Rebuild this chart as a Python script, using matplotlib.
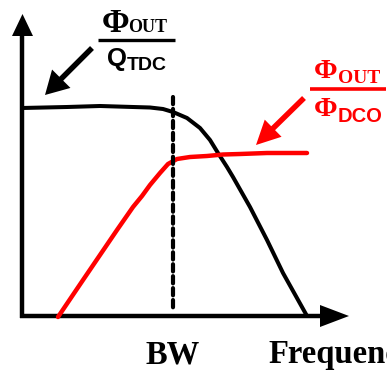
import matplotlib
matplotlib.use('Agg')
import matplotlib.pyplot as plt

# curves (pixel-like units, y grows downward)
black_x = [22, 67, 100, 133, 150, 163, 173, 187, 200, 210, 218, 227, 233, 250, 267, 283, 307]
black_y = [108, 107, 106, 107, 107.5, 109, 112, 118, 128, 140, 153, 167, 177, 207, 240, 273, 316]

red_x = [58, 83, 100, 117, 133, 142, 150, 160, 168, 177, 190, 207, 223, 240, 267, 307]
red_y = [317, 280, 255, 230, 207, 196, 185, 173, 164, 159, 157, 156, 154.5, 154, 153, 153]

bw_x = 173
bw_span = (97, 310)
tick_labels = ['BW', 'Frequency']

plt.rcParams['lines.scale_dashes'] = False

fig = plt.figure(figsize=(3.87, 3.76), dpi=100)
ax = fig.add_axes([0, 0, 1, 1])
ax.set_xlim(0, 387)
ax.set_ylim(376, 0)
ax.axis('off')

# axes with arrow heads
ax.plot([22, 22], [318, 34], color='black', lw=3.2, solid_capstyle='butt')
ax.plot([20, 322], [316, 316], color='black', lw=3.2, solid_capstyle='butt')
ax.fill([12, 33, 22.5], [36, 36, 14], color='black', lw=0)
ax.fill([320, 320, 349], [305, 327, 316], color='black', lw=0)

# curves
ax.plot(black_x, black_y, color='black', lw=2.9, solid_joinstyle='round', solid_capstyle='butt')
ax.plot(red_x, red_y, color='red', lw=3.2, solid_joinstyle='round', solid_capstyle='round')
ax.plot([bw_x, bw_x], bw_span, color='black', lw=3, dashes=(5.2, 3.4),
        dash_capstyle='round')

# labels under x axis
serif = 'Liberation Serif'
sans = 'Liberation Sans'
ax.text(bw_x, 363, tick_labels[0], ha='center', va='baseline', fontsize=23.5,
        family=serif, weight='bold')
ax.text(268, 363, tick_labels[1], ha='left', va='baseline', fontsize=23.5,
        family=serif, weight='bold')

# black fraction label
ax.text(116, 32, '\u03a6', ha='center', va='baseline', fontsize=24, family=serif, weight='bold')
ax.text(128, 32, 'OUT', ha='left', va='baseline', fontsize=13, family=serif, weight='bold')
ax.plot([98, 175], [40, 40], color='black', lw=2.4, solid_capstyle='butt')
ax.text(117, 66, 'Q', ha='center', va='baseline', fontsize=18.5, family=sans, weight='bold')
ax.text(127, 70, 'TDC', ha='left', va='baseline', fontsize=14, family=sans, weight='bold')
ax.arrow(92, 48, -47, 47, width=5.5, head_width=26, head_length=23,
         length_includes_head=True, color='black', lw=0)

# red fraction label
ax.text(326, 78, '\u03a6', ha='center', va='baseline', fontsize=20.5, family=serif,
        weight='bold', color='red')
ax.text(338, 83, 'OUT', ha='left', va='baseline', fontsize=14, family=serif,
        weight='bold', color='red')
ax.plot([310, 386], [89, 89], color='red', lw=2.6, solid_capstyle='butt')
ax.text(326, 116, '\u03a6', ha='center', va='baseline', fontsize=20.5, family=serif,
        weight='bold', color='red')
ax.text(338, 122, 'DCO', ha='left', va='baseline', fontsize=14.5, family=sans,
        weight='bold', color='red')
ax.arrow(304, 98, -48, 47, width=5.5, head_width=24, head_length=24,
         length_includes_head=True, color='red', lw=0)

fig.savefig('out.png', dpi=100)
